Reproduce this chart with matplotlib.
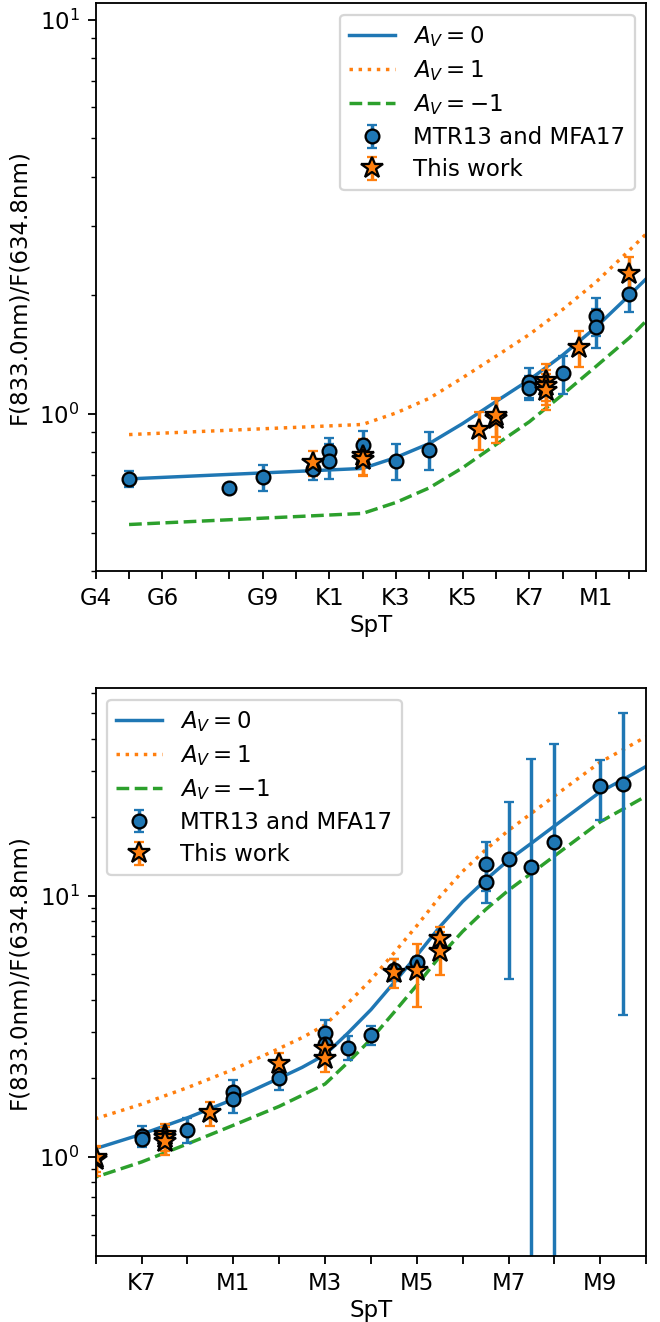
import matplotlib
matplotlib.use("Agg")
import matplotlib.pyplot as plt

# spectral type -> position on the x axis (G4=0 ... K7=13, M0=14 ... M10=24)
offsets = {"G": -4, "K": 6, "M": 14}


def spt_num(s):
    return offsets[s[0]] + float(s[1:])


tick_names = ["G4", "G5", "G6", "G7", "G8", "G9", "K0", "K1", "K2", "K3", "K4",
              "K5", "K6", "K7", "M0", "M1", "M2", "M3", "M4", "M5", "M6", "M7",
              "M8", "M9", "M10"]
top_labels = ["G4", "G6", "G9", "K1", "K3", "K5", "K7", "M1"]
bot_labels = ["K7", "M1", "M3", "M5", "M7", "M9"]

# model flux ratio for three extinctions
model_spt = ["G5", "K2", "K3", "K4", "K5", "K6", "K7", "M0", "M1", "M2", "M2.5",
             "M3", "M3.5", "M4", "M4.5", "M5", "M5.5", "M6", "M6.5", "M7", "M7.5",
             "M8", "M8.5", "M9", "M9.5", "M10"]
av0 = [0.684, 0.727, 0.775, 0.841, 0.945, 1.075, 1.22, 1.41, 1.66, 2.0, 2.2,
       2.46, 2.98, 3.66, 4.64, 5.9, 7.6, 9.5, 11.5, 13.7, 15.9,
       18.5, 21.5, 25.0, 27.9, 31.3]
av1 = [0.886, 0.94, 1.005, 1.095, 1.235, 1.40, 1.59, 1.84, 2.16, 2.6, 2.86,
       3.2, 3.88, 4.76, 6.03, 7.67, 9.9, 12.4, 15.0, 17.8, 20.7,
       24.1, 28.0, 32.5, 36.3, 40.7]
avm1 = [0.524, 0.559, 0.596, 0.649, 0.73, 0.836, 0.955, 1.12, 1.32, 1.56, 1.72,
        1.9, 2.3, 2.82, 3.57, 4.54, 5.85, 7.3, 8.85, 10.5, 12.2,
        14.2, 16.5, 19.2, 21.5, 24.1]

# MTR13 and MFA17
lit_spt = ["G5", "G8", "G9", "K0.5", "K1", "K1", "K2", "K3", "K4", "K7", "K7",
           "M0", "M1", "M1", "M2", "M3", "M3", "M3.5", "M4", "M4.5", "M5",
           "M6.5", "M6.5", "M7", "M7.5", "M8", "M9", "M9.5"]
lit_val = [0.685, 0.647, 0.691, 0.725, 0.806, 0.761, 0.833, 0.761, 0.812, 1.203, 1.166,
           1.266, 1.775, 1.659, 2.01, 2.98, 2.71, 2.62, 2.93, 5.2, 5.55,
           13.2, 11.3, 13.8, 12.9, 16.1, 26.3, 26.8]
lit_err = [0.031, 0.004, 0.052, 0.044, 0.062, 0.076, 0.07, 0.08, 0.09, 0.105, 0.08,
           0.14, 0.195, 0.19, 0.2, 0.35, 0.3, 0.27, 0.24, 0.5, 0.3,
           2.8, 1.9, 9.0, 20.4, 22.0, 6.8, 23.3]

# This work
tw_spt = ["K0.5", "K2", "K2", "K5.5", "K6", "K6", "K7.5", "K7.5", "K7.5", "M0.5",
          "M2", "M3", "M3", "M4.5", "M5", "M5.5", "M5.5"]
tw_val = [0.751, 0.781, 0.765, 0.909, 0.968, 0.986, 1.21, 1.175, 1.14, 1.47,
          2.27, 2.59, 2.37, 5.07, 5.16, 6.81, 6.11]
tw_err = [0.056, 0.083, 0.07, 0.1, 0.125, 0.11, 0.13, 0.12, 0.12, 0.155,
          0.23, 0.25, 0.25, 0.65, 1.4, 0.76, 1.14]


def draw_panel(ax, xlim, ylim, labels, loc):
    xm = [spt_num(s) for s in model_spt]
    ax.plot(xm, av0, "-", color="C0", label=r"$A_V=0$")
    ax.plot(xm, av1, ":", color="C1", label=r"$A_V=1$")
    ax.plot(xm, avm1, "--", color="C2", label=r"$A_V=-1$")
    ax.errorbar([spt_num(s) for s in lit_spt], lit_val, yerr=lit_err, fmt="o",
                color="C0", mec="k", capsize=2, label="MTR13 and MFA17")
    ax.errorbar([spt_num(s) for s in tw_spt], tw_val, yerr=tw_err, fmt="*",
                color="C1", mec="k", ms=10, capsize=2, label="This work")
    ax.set_yscale("log")
    ax.set_xlim(*xlim)
    ax.set_ylim(*ylim)
    ticks = list(range(int(xlim[0]), int(xlim[1]) + 1))
    ax.set_xticks(ticks)
    ax.set_xticklabels([tick_names[t] if tick_names[t] in labels else "" for t in ticks])
    ax.set_xlabel("SpT", labelpad=2)
    ax.set_ylabel("F(833.0nm)/F(634.8nm)")
    ax.legend(loc=loc, labelspacing=0.4)


fig, axes = plt.subplots(2, 1, figsize=(4, 1322 / 165))
fig.subplots_adjust(left=0.145, right=0.979, top=0.9975, bottom=0.0502, hspace=0.207)

draw_panel(axes[0], (0, 16.5), (0.4, 11.0), top_labels, "upper right")
draw_panel(axes[1], (12, 24), (0.418, 62.4), bot_labels, "upper left")

plt.savefig("out.png", dpi=165)
